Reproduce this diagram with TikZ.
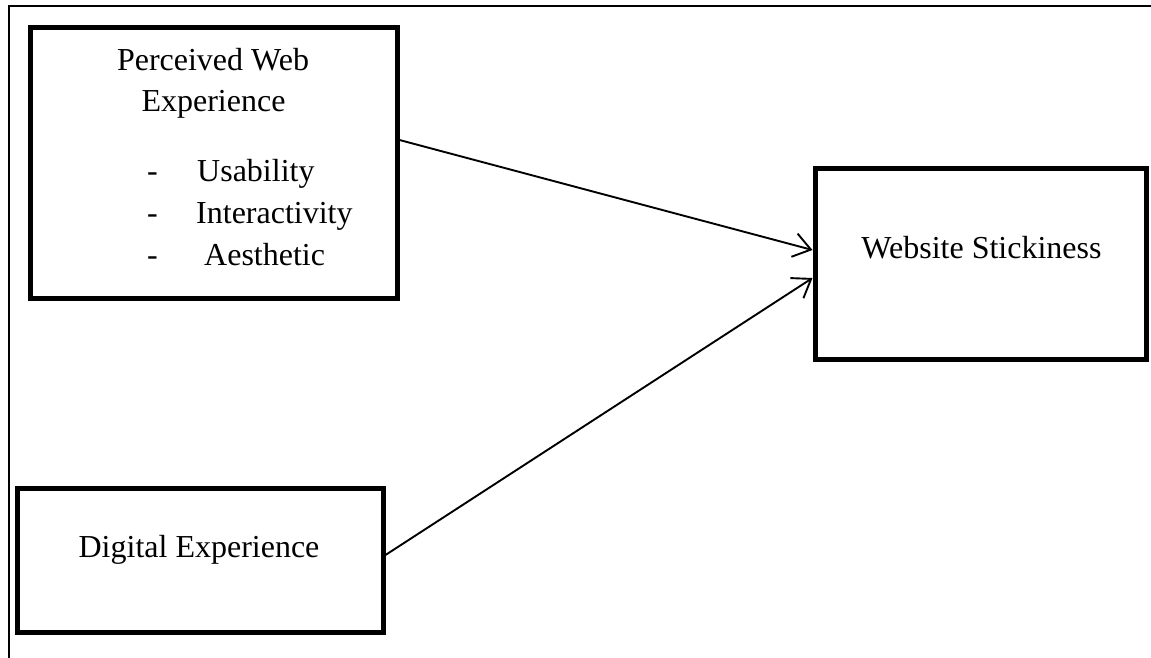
\documentclass[tikz,border=0pt]{standalone}
\usepackage{fontspec}
\setmainfont{Liberation Serif}
\usetikzlibrary{arrows.meta}

\begin{document}
\begin{tikzpicture}[
  x=1pt, y=-1pt,
  box/.style={draw, line width=5pt, inner sep=0pt},
  txt/.style={inner sep=0pt, font=\fontsize{32}{38}\selectfont},
  link/.style={line width=1.9pt, -{Straight Barb[length=17pt,width=24pt,line width=1.9pt]}},
]
  \useasboundingbox (0,0) rectangle (1151,658);
  \draw[line width=1.6pt] (1151,6) -- (9,6) -- (9,658);

  \node[box, minimum width=367, minimum height=270] (pwe) at (213.5,163) {};
  \node[box, minimum width=366, minimum height=144] (dx) at (200,560) {};
  \node[box, minimum width=331, minimum height=191] (ws) at (980.5,263.5) {};

  \node[txt, anchor=base] (pwe1) at (213,71) {Perceived Web};
  \node[txt, anchor=base] (pwe2) at (213.5,112) {Experience};
  \foreach \t/\x/\y [count=\i] in {Usability/197/182, Interactivity/196/223.5, Aesthetic/204/265} {
    \node[txt, anchor=base] (dash\i) at (152.5,\y) {-};
    \node[txt, anchor=base west] (item\i) at (\x,\y) {\t};
  }
  \node[txt, anchor=base] (dxt) at (199,557) {Digital Experience};
  \node[txt, anchor=base] (wst) at (981.5,258) {Website Stickiness};

  \draw[link] ([yshift=23]pwe.east) -- ([yshift=13.5]ws.west);
  \draw[link] ([yshift=5]dx.east) -- ([yshift=-14.5]ws.west);
\end{tikzpicture}
\end{document}
